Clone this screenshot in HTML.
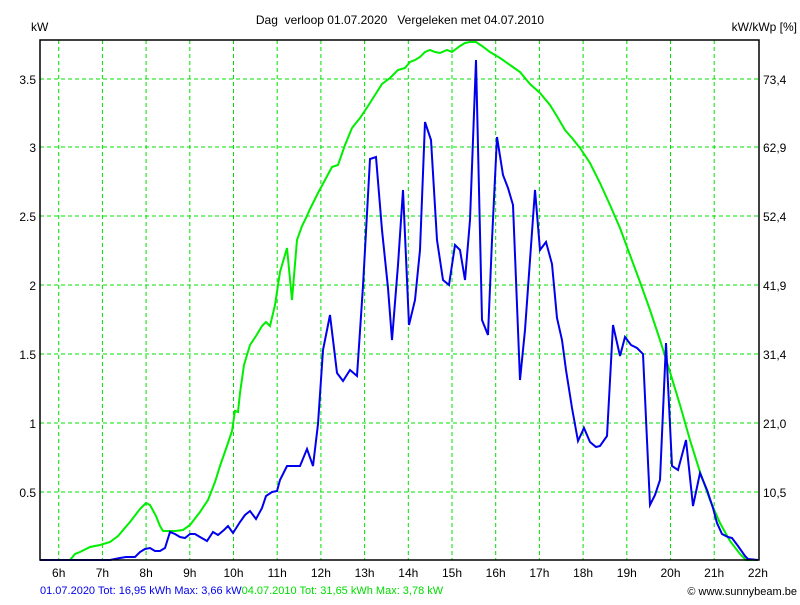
<!DOCTYPE html>
<html><head><meta charset="utf-8"><style>
body{margin:0;background:#fff;}
svg text{font-family:"Liberation Sans",sans-serif;font-size:12px;white-space:pre;}
</style></head><body>
<svg width="800" height="600" xmlns="http://www.w3.org/2000/svg">
<rect width="800" height="600" fill="#fff"/>
<g stroke="#00e000" stroke-width="1" stroke-dasharray="4,3">
<line x1="40" x2="759" y1="79" y2="79"/><line x1="40" x2="759" y1="147" y2="147"/>
<line x1="40" x2="759" y1="216" y2="216"/><line x1="40" x2="759" y1="285" y2="285"/>
<line x1="40" x2="759" y1="354" y2="354"/><line x1="40" x2="759" y1="423" y2="423"/>
<line x1="40" x2="759" y1="492" y2="492"/>
<line x1="58.7" x2="58.7" y1="40" y2="560"/><line x1="102.4" x2="102.4" y1="40" y2="560"/>
<line x1="146.1" x2="146.1" y1="40" y2="560"/><line x1="189.8" x2="189.8" y1="40" y2="560"/>
<line x1="233.5" x2="233.5" y1="40" y2="560"/><line x1="277.2" x2="277.2" y1="40" y2="560"/>
<line x1="320.9" x2="320.9" y1="40" y2="560"/><line x1="364.6" x2="364.6" y1="40" y2="560"/>
<line x1="408.3" x2="408.3" y1="40" y2="560"/><line x1="452" x2="452" y1="40" y2="560"/>
<line x1="495.7" x2="495.7" y1="40" y2="560"/><line x1="539.4" x2="539.4" y1="40" y2="560"/>
<line x1="583.1" x2="583.1" y1="40" y2="560"/><line x1="626.8" x2="626.8" y1="40" y2="560"/>
<line x1="670.5" x2="670.5" y1="40" y2="560"/><line x1="714.2" x2="714.2" y1="40" y2="560"/>
</g>
<polyline fill="none" stroke="#00ee00" stroke-width="2" points="40,560 70,560 75,554 80,552 90,547 100,545 110,542 118,536 130,522 140,509 146,503 150,505 156,516 160,526 163,531 175,531 183,530 190,525 200,512 208,500 215,482 220,466 227,446 232,431 235,411 238,412 240,393 244,365 250,345 256,336 262,326 266,322 270,326 275,305 280,272 287,248 292,300 297,240 302,226 306,218 310,209 318,193 325,180 332,167 338,165 345,145 352,128 360,118 368,106 375,95 382,84 390,78 398,70 405,68 410,62 415,60 420,57 425,52 430,50 435,52 440,53 447,50 452,52 460,46 465,43 470,42 476,42 482,46 490,52 500,58 510,65 520,72 530,84 540,93 550,105 558,118 565,130 572,138 580,148 590,163 600,183 610,205 620,228 630,255 640,282 650,310 660,340 670,372 680,405 690,440 700,472 710,500 720,523 730,541 740,554 746,560 757,560"/>
<polyline fill="none" stroke="#0000ee" stroke-width="2" points="40,560 110,560 120,558 126,557 135,557 140,552 145,549 150,548 155,551 160,551 165,548 170,532 175,534 180,537 185,538 190,534 195,534 200,537 207,541 213,532 218,535 224,530 228,526 233,533 240,522 245,515 250,511 256,519 262,508 266,496 272,492 277,491 280,480 287,466 293,466 300,466 307,449 313,466 318,424 323,350 330,315 337,373 343,381 350,370 357,376 363,286 370,159 376,157 382,230 388,288 392,340 398,265 403,190 409,325 415,300 420,250 425,122 431,140 437,240 443,280 449,285 455,245 460,250 465,280 470,220 476,60 482,320 488,335 492,240 497,137 503,175 508,188 513,205 520,380 525,330 530,260 535,190 540,250 546,242 552,264 557,318 562,340 566,370 572,408 578,441 584,428 590,442 596,447 600,446 607,436 613,325 620,356 625,337 631,345 637,348 643,354 650,505 655,495 660,480 666,343 672,466 678,470 686,440 693,506 700,473 707,490 713,508 717,523 722,534 728,537 732,538 738,546 745,556 748,559 758,560"/>
<rect x="40" y="40" width="719" height="520" fill="none" stroke="#000" stroke-width="1.5"/>
<g fill="#000" text-anchor="end">
<text x="36" y="84">3.5</text><text x="36" y="152">3</text><text x="36" y="221">2.5</text>
<text x="36" y="290">2</text><text x="36" y="359">1.5</text><text x="36" y="428">1</text><text x="36" y="497">0.5</text>
</g>
<g fill="#000">
<text x="763" y="84">73,4</text><text x="763" y="152">62,9</text><text x="763" y="221">52,4</text>
<text x="763" y="290">41,9</text><text x="763" y="359">31,4</text><text x="763" y="428">21,0</text><text x="763" y="497">10,5</text>
<text x="31" y="31">kW</text><text x="797" y="31" text-anchor="end">kW/kWp [%]</text>
<text x="400" y="24" text-anchor="middle" xml:space="preserve">Dag  verloop 01.07.2020   Vergeleken met 04.07.2010</text>
</g>
<g fill="#000" text-anchor="middle">
<text x="58.7" y="577">6h</text><text x="102.4" y="577">7h</text><text x="146.1" y="577">8h</text>
<text x="189.8" y="577">9h</text><text x="233.5" y="577">10h</text><text x="277.2" y="577">11h</text>
<text x="320.9" y="577">12h</text><text x="364.6" y="577">13h</text><text x="408.3" y="577">14h</text>
<text x="452" y="577">15h</text><text x="495.7" y="577">16h</text><text x="539.4" y="577">17h</text>
<text x="583.1" y="577">18h</text><text x="626.8" y="577">19h</text><text x="670.5" y="577">20h</text>
<text x="714.2" y="577">21h</text><text x="757.9" y="577">22h</text>
</g>
<text x="40" y="594" style="font-size:11px" fill="#0000ee">01.07.2020 Tot: 16,95 kWh Max: 3,66 kW<tspan fill="#00dd00">04.07.2010 Tot: 31,65 kWh Max: 3,78 kW</tspan></text>
<text x="797" y="595" style="font-size:11px" fill="#000" text-anchor="end">© www.sunnybeam.be</text>
</svg>
</body></html>
